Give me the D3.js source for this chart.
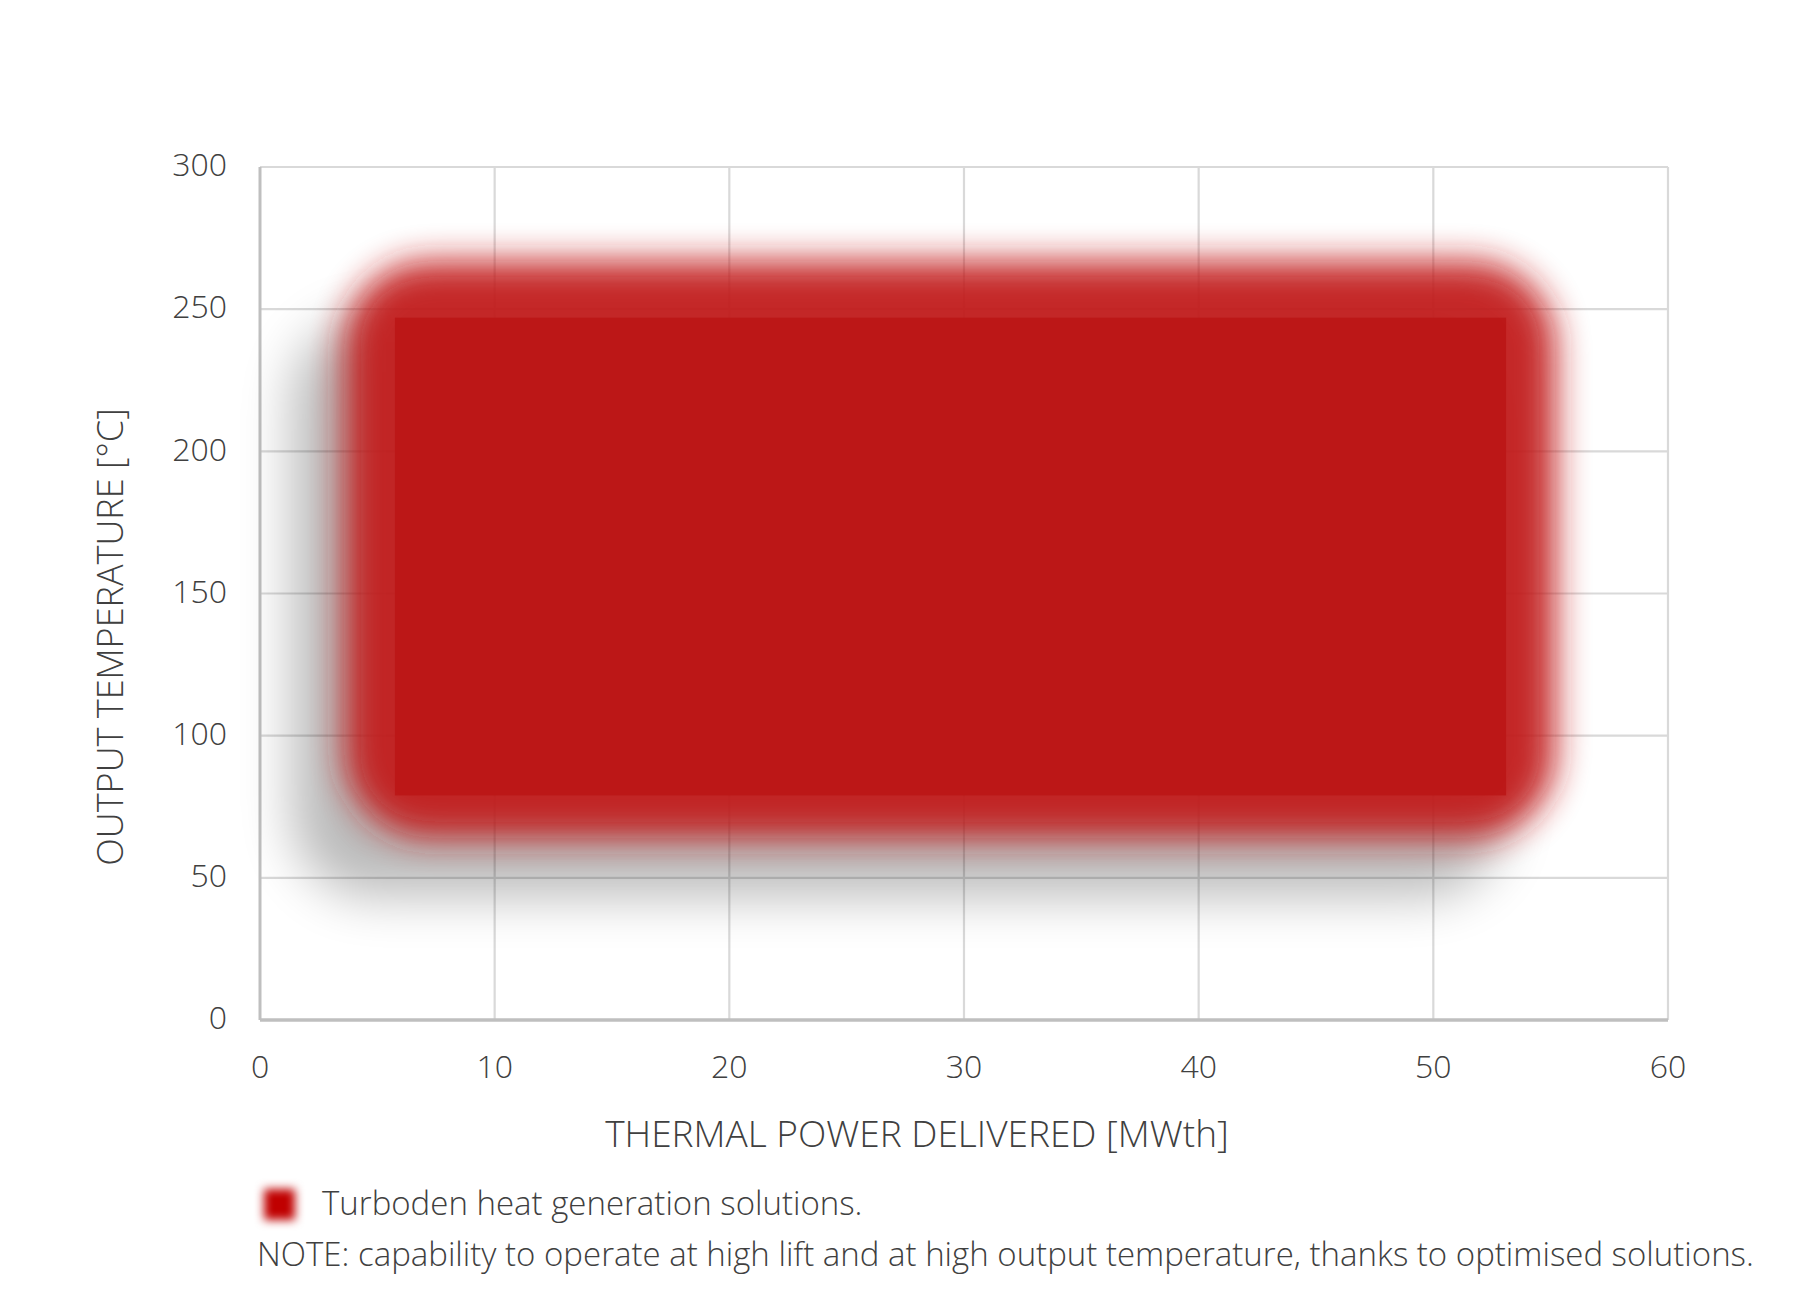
<!DOCTYPE html>
<html>
<head>
<meta charset="utf-8">
<script src="https://cdn.jsdelivr.net/npm/d3@7"></script>
<style>
  html, body { margin: 0; padding: 0; background: #fff; }
  text { font-family: "Open Sans", "Segoe UI", sans-serif; font-weight: 300; fill: #404040; }
</style>
</head>
<body>
<script>
  // Axis ticks
  const xTicks = [0, 10, 20, 30, 40, 50, 60];
  const yTicks = [0, 50, 100, 150, 200, 250, 300];

  // Operating region (MWth, °C): soft outer envelope and crisp core
  const regionX = [3.6, 55.2];
  const regionY = [64, 267];
  const coreX = [5.75, 53.1];
  const coreY = [79, 247];

  const xTitle = 'THERMAL POWER DELIVERED [MWth]';
  const yTitle = 'OUTPUT TEMPERATURE [°C]';
  const legendLabel = 'Turboden heat generation solutions.';
  const noteText = 'NOTE: capability to operate at high lift and at high output temperature, thanks to optimised solutions.';

  const W = 1800, H = 1300;
  const margin = { top: 167, right: 132, bottom: 280, left: 260 };
  const width = W - margin.left - margin.right;
  const height = H - margin.top - margin.bottom;

  const svg = d3.select('body').append('svg')
    .attr('width', W).attr('height', H);

  const defs = svg.append('defs');
  defs.append('filter').attr('id', 'soft')
    .attr('x', '-20%').attr('y', '-30%').attr('width', '140%').attr('height', '160%')
    .append('feGaussianBlur').attr('stdDeviation', 17);
  defs.append('filter').attr('id', 'shadow')
    .attr('x', '-30%').attr('y', '-40%').attr('width', '160%').attr('height', '180%')
    .append('feGaussianBlur').attr('stdDeviation', 26);
  defs.append('filter').attr('id', 'softSmall')
    .attr('x', '-80%').attr('y', '-80%').attr('width', '260%').attr('height', '260%')
    .append('feGaussianBlur').attr('stdDeviation', 5);

  const x = d3.scaleLinear().domain([0, 60]).range([0, width]);
  const y = d3.scaleLinear().domain([0, 300]).range([height, 0]);

  const chart = svg.append('g')
    .attr('transform', `translate(${margin.left},${margin.top})`);

  // Gridlines
  chart.append('g')
    .selectAll('line').data(xTicks.slice(1)).join('line')
    .attr('x1', d => x(d)).attr('x2', d => x(d))
    .attr('y1', 0).attr('y2', height)
    .attr('stroke', '#d9d9d9').attr('stroke-width', 2.2);
  chart.append('g')
    .selectAll('line').data(yTicks.slice(1)).join('line')
    .attr('x1', 0).attr('x2', width)
    .attr('y1', d => y(d)).attr('y2', d => y(d))
    .attr('stroke', '#d9d9d9').attr('stroke-width', 2.2);

  // Axis lines
  chart.append('line').attr('x1', 0).attr('x2', 0).attr('y1', 0).attr('y2', height)
    .attr('stroke', '#bfbfbf').attr('stroke-width', 3);
  chart.append('line').attr('x1', 0).attr('x2', width).attr('y1', height).attr('y2', height)
    .attr('stroke', '#bfbfbf').attr('stroke-width', 3.5);

  // Region: shadow, soft envelope, core
  const rw = x(regionX[1]) - x(regionX[0]);
  const rh = y(regionY[0]) - y(regionY[1]);
  chart.append('rect')
    .attr('x', x(regionX[0]) - 52).attr('y', y(regionY[1]) + 58)
    .attr('width', rw).attr('height', rh)
    .attr('rx', 80).attr('ry', 80)
    .attr('fill', '#000').attr('opacity', 0.27)
    .attr('filter', 'url(#shadow)');
  chart.append('rect')
    .attr('x', x(regionX[0])).attr('y', y(regionY[1]))
    .attr('width', rw).attr('height', rh)
    .attr('rx', 85).attr('ry', 85)
    .attr('fill', '#c21f1f').attr('opacity', 0.94)
    .attr('filter', 'url(#soft)');
  chart.append('rect')
    .attr('x', x(coreX[0])).attr('y', y(coreY[1]))
    .attr('width', x(coreX[1]) - x(coreX[0]))
    .attr('height', y(coreY[0]) - y(coreY[1]))
    .attr('fill', '#bb1717').attr('opacity', 0.93);

  // Tick labels
  chart.append('g').selectAll('text').data(yTicks).join('text')
    .attr('x', -33).attr('y', d => y(d) - 2).attr('dy', '0.35em')
    .attr('text-anchor', 'end').attr('font-size', 32)
    .text(d => d);
  chart.append('g').selectAll('text').data(xTicks).join('text')
    .attr('x', d => x(d)).attr('y', height + 47).attr('dy', '0.35em')
    .attr('text-anchor', 'middle').attr('font-size', 32)
    .text(d => d);

  // Axis titles
  svg.append('text')
    .attr('x', 917).attr('y', 1134).attr('dy', '0.35em')
    .attr('text-anchor', 'middle').attr('font-size', 37)
    .text(xTitle);
  svg.append('text')
    .attr('transform', 'translate(110,637) rotate(-90)')
    .attr('dy', '0.35em')
    .attr('text-anchor', 'middle').attr('font-size', 36)
    .text(yTitle);

  // Legend
  svg.append('rect')
    .attr('x', 264).attr('y', 1189).attr('width', 31).attr('height', 31)
    .attr('fill', '#c00000').attr('filter', 'url(#softSmall)');
  svg.append('text')
    .attr('x', 322).attr('y', 1203).attr('dy', '0.35em')
    .attr('font-size', 33)
    .text(legendLabel);
  svg.append('text')
    .attr('x', 257).attr('y', 1254).attr('dy', '0.35em')
    .attr('font-size', 33)
    .text(noteText);
</script>
</body>
</html>
